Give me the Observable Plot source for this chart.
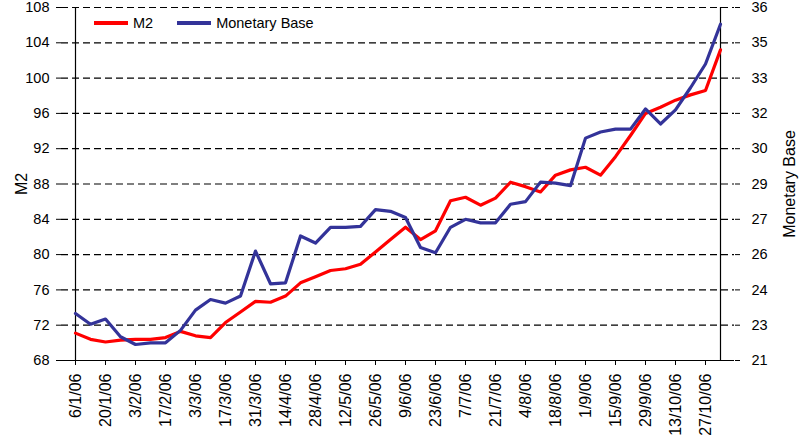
<!DOCTYPE html>
<html><head><meta charset="utf-8">
<script src="https://cdn.jsdelivr.net/npm/d3@7"></script>
<script src="https://cdn.jsdelivr.net/npm/@observablehq/plot@0.6"></script>
<style>
body{margin:0;background:#fff;}
#wrap{position:relative;width:801px;height:445px;font-family:"Liberation Sans",Arial,sans-serif;}
.legend{position:absolute;left:94px;top:14px;height:18px;font-size:14.5px;display:flex;align-items:center;color:#000;}
.sw{display:inline-block;width:34px;height:3.5px;margin-right:5px}
.item{display:flex;align-items:center;margin-right:24px}
</style></head><body><div id="wrap"></div>
<script>
const dates = ["6/1/06","13/1/06","20/1/06","27/1/06","3/2/06","10/2/06","17/2/06","24/2/06","3/3/06","10/3/06","17/3/06","24/3/06","31/3/06","7/4/06","14/4/06","21/4/06","28/4/06","5/5/06","12/5/06","19/5/06","26/5/06","2/6/06","9/6/06","16/6/06","23/6/06","30/6/06","7/7/06","14/7/06","21/7/06","28/7/06","4/8/06","11/8/06","18/8/06","25/8/06","1/9/06","8/9/06","15/9/06","22/9/06","29/9/06","6/10/06","13/10/06","20/10/06","27/10/06","3/11/06"];
const m2 = [71.1,70.4,70.1,70.3,70.4,70.4,70.6,71.3,70.8,70.6,72.3,73.5,74.7,74.6,75.3,76.8,77.5,78.2,78.4,78.9,80.3,81.7,83.1,81.7,82.7,86.1,86.5,85.6,86.4,88.2,87.7,87.1,89.0,89.6,89.9,89.0,91.1,93.5,96.0,96.7,97.5,98.1,98.6,103.2];
const monetaryBase = [23.0,22.54,22.76,22.01,21.68,21.75,21.75,22.28,23.14,23.59,23.44,23.74,25.65,24.26,24.30,26.29,25.99,26.66,26.66,26.70,27.41,27.34,27.08,25.80,25.58,26.66,27.00,26.85,26.85,27.64,27.75,28.58,28.54,28.43,30.45,30.71,30.83,30.83,31.69,31.05,31.65,32.59,33.60,35.29];
const leftTicks = [68,72,76,80,84,88,92,96,100,104,108];
const rightTickLabels = ["21","23","24","26","27","29","30","32","33","35","36"];
const leftDomain = [68,108];
const rightDomain = [21,36];
const seriesNames = ["M2","Monetary Base"];
const seriesColors = ["#ff0000","#333399"];

const toLeft = v => leftDomain[0] + (v - rightDomain[0]) * (leftDomain[1]-leftDomain[0])/(rightDomain[1]-rightDomain[0]);
const rows = dates.map((d,i)=>({date:d, m2:m2[i], base:monetaryBase[i]}));
const xTicks = dates.filter((d,i)=>i%2===0);

const chart = Plot.plot({
  width:801, height:445,
  marginLeft:61, marginRight:67, marginTop:7, marginBottom:85,
  style:{fontFamily:"Liberation Sans, Arial, sans-serif", fontSize:"14.5px", color:"#000", background:"#fff", overflow:"visible"},
  x:{type:"point", domain:dates, padding:0},
  y:{domain:leftDomain},
  marks:[
    Plot.gridY(leftTicks.slice(1), {stroke:"#000", strokeOpacity:1, strokeWidth:1.2, strokeDasharray:"7,4"}),
    Plot.axisY({ticks:leftTicks, tickSize:5, tickPadding:7, label:seriesNames[0], labelAnchor:"center", labelArrow:"none", labelOffset:46}),
    Plot.axisY({anchor:"right", ticks:leftTicks, tickSize:5, tickPadding:12, tickFormat:d=>rightTickLabels[leftTicks.indexOf(d)], label:seriesNames[1], labelAnchor:"center", labelArrow:"none", labelOffset:60}),
    Plot.axisX({ticks:xTicks, tickRotate:-90, tickSize:5, tickPadding:8, fontSize:16, label:null}),
    Plot.ruleY([leftDomain[0]], {stroke:"#000", strokeWidth:1.2}),
    Plot.ruleX([dates[0], dates[dates.length-1]], {stroke:"#000", strokeWidth:1.2}),
    Plot.lineY(rows, {x:"date", y:"m2", stroke:seriesColors[0], strokeWidth:3.2}),
    Plot.lineY(rows, {x:"date", y:d=>toLeft(d.base), stroke:seriesColors[1], strokeWidth:3.2})
  ]
});
d3.select(chart).selectAll('g[aria-label="y-axis label"] text').style("font-size","16px");
const wrap = document.getElementById("wrap");
wrap.appendChild(chart);
const leg = document.createElement("div");
leg.className = "legend";
seriesNames.forEach((n,i)=>{
  const it = document.createElement("span"); it.className="item";
  const sw = document.createElement("span"); sw.className="sw"; sw.style.background=seriesColors[i];
  it.appendChild(sw); it.appendChild(document.createTextNode(n));
  leg.appendChild(it);
});
wrap.appendChild(leg);
</script>
</body></html>
